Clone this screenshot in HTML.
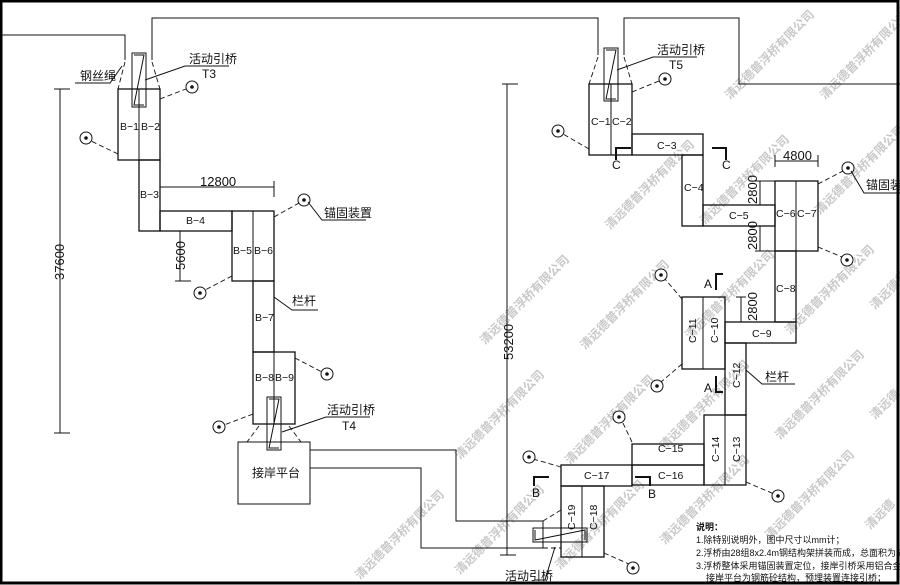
<!DOCTYPE html>
<html><head><meta charset="utf-8"><style>
html,body{margin:0;padding:0;background:#fff}
svg{display:block}
text{font-family:"Liberation Sans","Noto Sans CJK SC",sans-serif;fill:#111}
.b{fill:none;stroke:#111;stroke-width:1.3}
.l{fill:none;stroke:#111;stroke-width:1}
.d{fill:none;stroke:#111;stroke-width:0.9;stroke-dasharray:5 3}
.wm text{font-size:12px;fill:#c8c8c8;font-weight:bold}
</style></head><body>
<svg width="900" height="585" viewBox="0 0 900 585" xmlns="http://www.w3.org/2000/svg">
<rect x="0" y="0" width="900" height="585" fill="#fff"/>
<g class="wm">
<text transform="translate(730,100) rotate(-45)">清远德普浮桥有限公司</text>
<text transform="translate(825,100) rotate(-45)">清远德普浮桥有限公司</text>
<text transform="translate(610,230) rotate(-45)">清远德普浮桥有限公司</text>
<text transform="translate(705,225) rotate(-45)">清远德普浮桥有限公司</text>
<text transform="translate(820,215) rotate(-45)">清远德普浮桥有限公司</text>
<text transform="translate(485,345) rotate(-45)">清远德普浮桥有限公司</text>
<text transform="translate(585,350) rotate(-45)">清远德普浮桥有限公司</text>
<text transform="translate(690,340) rotate(-45)">清远德普浮桥有限公司</text>
<text transform="translate(790,335) rotate(-45)">清远德普浮桥有限公司</text>
<text transform="translate(875,310) rotate(-45)">清远德普</text>
<text transform="translate(460,460) rotate(-45)">清远德普浮桥有限公司</text>
<text transform="translate(570,465) rotate(-45)">清远德普浮桥有限公司</text>
<text transform="translate(665,450) rotate(-45)">清远德普浮桥有限公司</text>
<text transform="translate(780,440) rotate(-45)">清远德普浮桥有限公司</text>
<text transform="translate(875,420) rotate(-45)">清远德</text>
<text transform="translate(360,580) rotate(-45)">清远德普浮桥有限公司</text>
<text transform="translate(460,575) rotate(-45)">清远德普浮桥有限公司</text>
<text transform="translate(560,570) rotate(-45)">清远德普浮桥有限公司</text>
<text transform="translate(665,545) rotate(-45)">清远德普浮桥有限公司</text>
<text transform="translate(770,540) rotate(-45)">清远德普浮桥有限公司</text>
<text transform="translate(870,530) rotate(-45)">清远德</text>
</g>
<polyline class="l" points="2,35 125,35 125,60"/>
<polyline class="l" points="152,60 152,18 598,18 598,55"/>
<polyline class="l" points="624,55 624,18 739,18 739,84 900,84"/>
<rect class="l" x="132" y="53" width="14" height="54"/>
<polyline class="l" points="134,55 144,55 134,105 144,105"/>
<line class="d" x1="125" y1="62" x2="118" y2="89"/><line class="d" x1="152" y1="62" x2="160" y2="89"/>
<rect class="b" x="118" y="89" width="42" height="71"/><line class="l" x1="139" y1="89" x2="139" y2="231"/>
<rect class="b" x="139" y="160" width="21" height="71"/>
<rect class="b" x="160" y="211" width="72" height="20"/>
<rect class="b" x="232" y="211" width="42" height="70"/><line class="l" x1="253" y1="211" x2="253" y2="352"/>
<rect class="b" x="253" y="281" width="21" height="71"/>
<rect class="b" x="253" y="352" width="42" height="72"/><line class="l" x1="274" y1="352" x2="274" y2="424"/>
<rect class="l" x="267" y="397" width="14" height="53"/>
<polyline class="l" points="269,399 279,399 269,448 279,448"/>
<line class="d" x1="259" y1="426" x2="247" y2="442"/><line class="d" x1="289" y1="426" x2="301" y2="442"/>
<rect class="l" x="238" y="442" width="72" height="62"/>
<polyline class="l" points="310,450 456,450 456,521 543,521 543,548 421,548 421,468 310,468"/>
<rect class="l" x="604" y="48" width="14" height="53"/>
<polyline class="l" points="606,50 616,50 606,99 616,99"/>
<line class="d" x1="598" y1="57" x2="589" y2="84"/><line class="d" x1="624" y1="57" x2="632" y2="84"/>
<rect class="b" x="589" y="84" width="43" height="71"/><line class="l" x1="611" y1="84" x2="611" y2="155"/>
<rect class="b" x="632" y="134" width="71" height="21"/>
<rect class="b" x="682" y="155" width="21" height="71"/>
<rect class="b" x="703" y="205" width="72" height="21"/>
<rect class="b" x="775" y="181" width="43" height="70"/><line class="l" x1="796" y1="181" x2="796" y2="322"/>
<rect class="b" x="775" y="251" width="21" height="71"/>
<rect class="b" x="725" y="322" width="71" height="21"/>
<rect class="b" x="682" y="297" width="43" height="72"/><line class="l" x1="703" y1="297" x2="703" y2="369"/>
<rect class="b" x="725" y="343" width="21" height="72"/>
<rect class="b" x="704" y="415" width="42" height="70"/><line class="l" x1="725" y1="415" x2="725" y2="485"/>
<rect class="b" x="632" y="444" width="72" height="21"/>
<rect class="b" x="632" y="465" width="72" height="20"/>
<rect class="b" x="561" y="465" width="71" height="21"/>
<rect class="b" x="561" y="486" width="43" height="71"/><line class="l" x1="582" y1="486" x2="582" y2="557"/>
<rect class="l" x="533" y="528" width="54" height="14"/>
<polyline class="l" points="535,530 535,540 585,530 585,540"/>
<line class="d" x1="543" y1="521" x2="561" y2="510"/><line class="d" x1="543" y1="548" x2="561" y2="548"/>
<g font-size="10.5">
<text x="120" y="130">B−1</text><text x="141" y="130">B−2</text>
<text x="140" y="198">B−3</text><text x="186" y="224">B−4</text>
<text x="233" y="254">B−5</text><text x="254" y="254">B−6</text>
<text x="255" y="321">B−7</text>
<text x="255" y="381">B−8</text><text x="275" y="381">B−9</text>
<text x="591" y="125">C−1</text><text x="612" y="125">C−2</text>
<text x="657" y="149">C−3</text><text x="684" y="191">C−4</text>
<text x="729" y="219">C−5</text>
<text x="776" y="217">C−6</text><text x="797" y="217">C−7</text>
<text x="776" y="292">C−8</text><text x="752" y="337">C−9</text>
<text x="658" y="452">C−15</text><text x="658" y="479">C−16</text><text x="584" y="479">C−17</text>
</g>
<g font-size="10.5">
<text transform="translate(718,343) rotate(-90)">C−10</text>
<text transform="translate(696,343) rotate(-90)">C−11</text>
<text transform="translate(740,388) rotate(-90)">C−12</text>
<text transform="translate(740,462) rotate(-90)">C−13</text>
<text transform="translate(719,462) rotate(-90)">C−14</text>
<text transform="translate(597,530) rotate(-90)">C−18</text>
<text transform="translate(575,530) rotate(-90)">C−19</text>
</g>
<g class="l">
<line x1="60" y1="89" x2="60" y2="433"/><line x1="54" y1="89" x2="70" y2="89"/><line x1="54" y1="433" x2="70" y2="433"/>
<line x1="507" y1="84" x2="507" y2="555"/><line x1="502" y1="84" x2="518" y2="84"/><line x1="500" y1="555" x2="516" y2="555"/>
<line x1="160" y1="187" x2="274" y2="187"/><line x1="274" y1="181" x2="274" y2="197"/>
<line x1="180" y1="231" x2="180" y2="281"/><line x1="175" y1="281" x2="191" y2="281"/>
<line x1="775" y1="161" x2="818" y2="161"/><line x1="775" y1="155" x2="775" y2="167"/><line x1="818" y1="155" x2="818" y2="167"/>
<line x1="760" y1="181" x2="760" y2="205"/><line x1="760" y1="226" x2="760" y2="251"/>
<line x1="755" y1="181" x2="775" y2="181"/><line x1="755" y1="205" x2="775" y2="205"/><line x1="755" y1="226" x2="775" y2="226"/><line x1="755" y1="251" x2="775" y2="251"/>
<line x1="741" y1="297" x2="741" y2="322"/><line x1="736" y1="297" x2="746" y2="297"/><line x1="736" y1="322" x2="746" y2="322"/>
</g>
<g font-size="13">
<text transform="translate(64,280) rotate(-90)">37600</text>
<text transform="translate(513,360) rotate(-90)">53200</text>
<text x="200" y="186">12800</text>
<text transform="translate(185,270) rotate(-90)">5600</text>
<text x="783" y="160">4800</text>
<text transform="translate(757,204) rotate(-90)">2800</text>
<text transform="translate(757,250) rotate(-90)">2800</text>
<text transform="translate(757,321) rotate(-90)">2800</text>
</g>
<g fill="none" stroke="#111" stroke-width="2">
<polyline points="616,160 616,148 631,148"/>
<polyline points="712,148 726,148 726,160"/>
<polyline points="723,274 716,274 716,290"/>
<polyline points="716,376 716,392 723,392"/>
<polyline points="534,486 534,477 549,477"/>
<polyline points="635,477 650,477 650,486"/>
</g>
<g font-size="12">
<text x="612" y="169">C</text><text x="722" y="169">C</text>
<text x="704" y="288">A</text><text x="704" y="392">A</text>
<text x="532" y="497">B</text><text x="648" y="498">B</text>
</g>
<g>
<g class="d">
<line x1="160" y1="99" x2="186" y2="89"/><line x1="118" y1="154" x2="91" y2="141"/>
<line x1="274" y1="217" x2="299" y2="203"/><line x1="232" y1="276" x2="205" y2="290"/>
<line x1="295" y1="358" x2="322" y2="372"/><line x1="253" y1="414" x2="224" y2="425"/>
<line x1="632" y1="92" x2="659" y2="81"/><line x1="589" y1="149" x2="563" y2="134"/>
<line x1="818" y1="184" x2="843" y2="171"/><line x1="818" y1="247" x2="842" y2="257"/>
<line x1="682" y1="299" x2="665" y2="279"/><line x1="682" y1="364" x2="661" y2="382"/>
<line x1="632" y1="442" x2="622" y2="421"/><line x1="561" y1="467" x2="533" y2="459"/>
<line x1="746" y1="482" x2="774" y2="494"/><line x1="604" y1="553" x2="629" y2="564"/>
</g>
<g fill="#fff" stroke="#111" stroke-width="1">
<circle cx="192" cy="87" r="6"/><circle cx="86" cy="138" r="6"/><circle cx="304" cy="200" r="6"/><circle cx="200" cy="293" r="6"/>
<circle cx="327" cy="374" r="6"/><circle cx="219" cy="427" r="6"/><circle cx="665" cy="79" r="6"/><circle cx="558" cy="131" r="6"/>
<circle cx="848" cy="168" r="6"/><circle cx="847" cy="260" r="6"/><circle cx="661" cy="275" r="6"/><circle cx="657" cy="386" r="6"/>
<circle cx="619" cy="417" r="6"/><circle cx="529" cy="457" r="6"/><circle cx="778" cy="496" r="6"/><circle cx="633" cy="568" r="6"/>
</g>
<g fill="#111">
<circle cx="192" cy="87" r="1.8"/><circle cx="86" cy="138" r="1.8"/><circle cx="304" cy="200" r="1.8"/><circle cx="200" cy="293" r="1.8"/>
<circle cx="327" cy="374" r="1.8"/><circle cx="219" cy="427" r="1.8"/><circle cx="665" cy="79" r="1.8"/><circle cx="558" cy="131" r="1.8"/>
<circle cx="848" cy="168" r="1.8"/><circle cx="847" cy="260" r="1.8"/><circle cx="661" cy="275" r="1.8"/><circle cx="657" cy="386" r="1.8"/>
<circle cx="619" cy="417" r="1.8"/><circle cx="529" cy="457" r="1.8"/><circle cx="778" cy="496" r="1.8"/><circle cx="633" cy="568" r="1.8"/>
</g>
</g>
<g class="l">
<polyline points="145,80 185,66 229,66"/>
<polyline points="122,66 110,83 75,83"/>
<polyline points="308,202 322,220 366,220"/>
<polyline points="274,297 292,310 318,310"/>
<polyline points="282,432 326,417 370,417"/>
<polyline points="617,70 653,57 697,57"/>
<polyline points="851,171 864,193 900,193"/>
<polyline points="746,370 762,384 795,384"/>
<polyline points="555,547 545,580 535,580"/>
</g>
<g font-size="12">
<text x="189" y="63">活动引桥</text><text x="202" y="78">T3</text>
<text x="80" y="80">钢丝绳</text>
<text x="324" y="217">锚固装置</text>
<text x="292" y="305">栏杆</text>
<text x="327" y="414">活动引桥</text><text x="342" y="430">T4</text>
<text x="252" y="477">接岸平台</text>
<text x="657" y="54">活动引桥</text><text x="669" y="69">T5</text>
<text x="866" y="189">锚固装</text>
<text x="765" y="381">栏杆</text>
<text x="505" y="580">活动引桥</text>
</g>
<g font-size="9">
<text x="696" y="530" font-weight="bold">说明：</text>
<text x="696" y="543">1.除特别说明外，图中尺寸以mm计；</text>
<text x="696" y="556">2.浮桥由28组8x2.4m钢结构架拼装而成，总面积为537.6m²</text>
<text x="696" y="569">3.浮桥整体采用锚固装置定位，接岸引桥采用铝合金引桥，长度</text>
<text x="706" y="581">接岸平台为钢筋砼结构，预埋装置连接引桥；</text>
</g>
<rect x="1" y="1" width="897" height="582" fill="none" stroke="#000" stroke-width="3"/>
</svg>
</body></html>
